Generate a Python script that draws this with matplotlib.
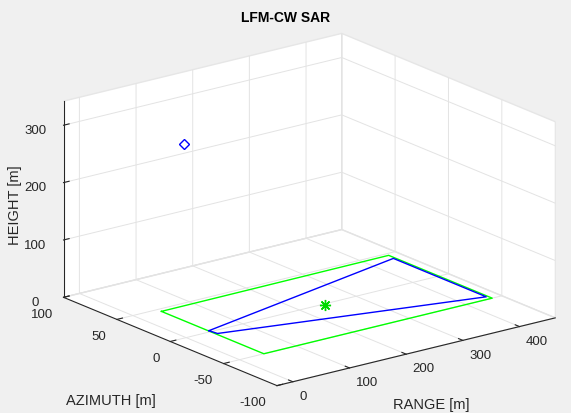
import numpy as np
import matplotlib
matplotlib.use('Agg')
import matplotlib.pyplot as plt

plt.rcParams['font.family'] = ['Liberation Sans', 'DejaVu Sans']
plt.rcParams['axes.unicode_minus'] = False

# scene footprint (green rectangle), range / azimuth in m
scene_range = [43, 43, 446, 446, 43]
scene_azim = [46, -50, -50, 47, 46]

# antenna beam footprint (blue)
beam_range = [44, 443, 443, 46, 44]
beam_azim = [2, 41, -46, -5, 2]

# scene centre and radar position
centre = (241, -2, 0)
radar = (-4, 0, 338)

xticks = [0, 100, 200, 300, 400]
yticks = [-100, -50, 0, 50, 100]
zticks = [0, 100, 200, 300]

fig = plt.figure(figsize=(5.71, 4.14), dpi=100, facecolor='#f0f0f0')
ax = fig.add_axes([0.032, -0.022, 1.0, 1.0], projection='3d', proj_type='ortho')
ax.set_facecolor('none')

ax.plot(scene_range, scene_azim, np.zeros(len(scene_range)), color=(0, 1, 0), lw=1.0)
ax.plot(beam_range, beam_azim, np.zeros(len(beam_range)), color=(0, 0, 1), lw=1.0)
ax.plot([centre[0]], [centre[1]], [centre[2]], marker=(8, 2, 0), color=(0, 1, 0),
        mec=(0, 0.85, 0), ms=8, mew=1.0, lw=0)
ax.plot([radar[0]], [radar[1]], [radar[2]], marker='D', mfc='none', mec=(0, 0, 1),
        ms=5, mew=1.0, lw=0)

ax.set_xlim(-28, 463)
ax.set_ylim(-100, 100)
ax.set_zlim(0, 342)
ax.set_xticks(xticks)
ax.set_yticks(yticks)
ax.set_zticks(zticks)

ax.view_init(elev=18.5, azim=-127.5)
ax.set_box_aspect((1, 1, 0.59), zoom=1.26)

for axis in (ax.xaxis, ax.yaxis, ax.zaxis):
    axis.set_pane_color((1, 1, 1, 1))
    axis.pane.set_edgecolor('#e6e6e6')
    axis._axinfo['grid']['color'] = '#e3e3e3'
    axis._axinfo['grid']['linewidth'] = 0.7
    axis._axinfo['axisline']['color'] = '#262626'
    axis.line.set_color('#262626')
    axis.line.set_linewidth(0.8)
    axis._axinfo['tick']['color'] = '#262626'
    axis._axinfo['tick']['inward_factor'] = 0.0
    axis._axinfo['tick']['outward_factor'] = 0.25

ax.tick_params(labelsize=9.5, colors='#262626', pad=2)
ax.xaxis.set_tick_params(pad=-3.5)
ax.yaxis.set_tick_params(pad=-2)
ax.zaxis.set_tick_params(pad=1)
for lab in ax.get_xticklabels():
    lab.set_ha('left')
for lab in ax.get_yticklabels():
    lab.set_ha('right')

# axis labels placed like the MATLAB figure (horizontal range / azimuth labels)
fig.text(0.755, 0.022, 'RANGE [m]', fontsize=10.5, color='#262626', ha='center', va='center')
fig.text(0.195, 0.032, 'AZIMUTH [m]', fontsize=10.5, color='#262626', ha='center', va='center')
fig.text(0.027, 0.505, 'HEIGHT [m]', fontsize=10.5, color='#262626', ha='center', va='center',
         rotation=90)
fig.text(0.5, 0.957, 'LFM-CW SAR', fontsize=10, fontweight='bold', color='black',
         ha='center', va='center')

plt.savefig('out.png', dpi=100, facecolor='#f0f0f0')
